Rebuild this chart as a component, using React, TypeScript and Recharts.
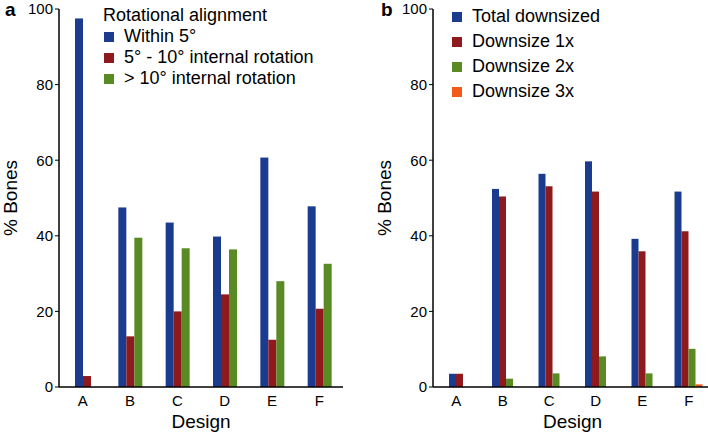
import React from "react";
import { BarChart, Bar, XAxis, YAxis, Legend } from "recharts";

// Design categories shared by both panels
const designs = ["A", "B", "C", "D", "E", "F"];
const yTicks = [0, 20, 40, 60, 80, 100];

// Panel a: rotational alignment
const within5 = [97.5, 47.5, 43.5, 39.8, 60.7, 47.8];
const rot5to10 = [2.9, 13.4, 20.0, 24.5, 12.5, 20.7];
const rotOver10 = [0, 39.5, 36.7, 36.4, 28.0, 32.6];

// Panel b: downsizing
const totalDownsized = [3.5, 52.4, 56.4, 59.7, 39.2, 51.7];
const downsize1x = [3.5, 50.4, 53.1, 51.7, 35.9, 41.2];
const downsize2x = [0, 2.2, 3.6, 8.1, 3.6, 10.1];
const downsize3x = [0, 0, 0, 0, 0, 0.7];

const BLUE = "#1b3c8e";
const RED = "#8e1a1d";
const GREEN = "#5a8a24";
const ORANGE = "#f15a1a";
const FONT = "'Liberation Sans', Arial, sans-serif";

const seriesA = [
  { key: "within5", name: "Within 5°", color: BLUE, values: within5 },
  { key: "rot5to10", name: "5° - 10° internal rotation", color: RED, values: rot5to10 },
  { key: "rotOver10", name: "> 10° internal rotation", color: GREEN, values: rotOver10 },
];

const seriesB = [
  { key: "total", name: "Total downsized", color: BLUE, values: totalDownsized },
  { key: "d1", name: "Downsize 1x", color: RED, values: downsize1x },
  { key: "d2", name: "Downsize 2x", color: GREEN, values: downsize2x },
  { key: "d3", name: "Downsize 3x", color: ORANGE, values: downsize3x },
];

type Series = { key: string; name: string; color: string; values: number[] };

const buildRows = (series: Series[]) =>
  designs.map((design, i) => {
    const row: Record<string, string | number> = { design };
    series.forEach((s) => (row[s.key] = s.values[i]));
    return row;
  });

// empty bars are dropped from a group, so the rest stay centred on the tick
const makeShape = (keys: string[]) => (props: any) => {
  const { x, y, width, height, fill, payload } = props;
  if (!height || height <= 0) return <g />;
  const shown = keys.filter((k) => Number(payload[k]) > 0).length;
  const shift = ((keys.length - shown) * width) / 2;
  return <rect x={x + shift} y={y} width={width} height={height} fill={fill} />;
};

const tickStyle = { fill: "#000", fontSize: 15, fontFamily: FONT };

function LegendBox({
  series,
  title,
  rowHeight,
}: {
  series: Series[];
  title?: string;
  rowHeight: number;
}) {
  return (
    <div style={{ fontFamily: FONT, fontSize: 18, color: "#000", textAlign: "left" }}>
      {title && <div style={{ height: rowHeight, lineHeight: `${rowHeight}px` }}>{title}</div>}
      {series.map((s) => (
        <div
          key={s.key}
          style={{ display: "flex", alignItems: "center", height: rowHeight, whiteSpace: "nowrap" }}
        >
          <span
            style={{ width: 10, height: 10, background: s.color, marginLeft: 1, marginRight: 10 }}
          />
          <span>{s.name}</span>
        </div>
      ))}
    </div>
  );
}

function Panel({
  series,
  width,
  left,
  yAxisWidth,
  rightMargin,
  barSize,
  legendPos,
  legendTitle,
  rowHeight,
  labelOffset,
}: {
  series: Series[];
  width: number;
  left: number;
  yAxisWidth: number;
  rightMargin: number;
  barSize: number;
  legendPos: { left: number; top: number };
  legendTitle?: string;
  rowHeight: number;
  labelOffset: number;
}) {
  const rows = buildRows(series);
  const keys = series.map((s) => s.key);
  const shape = makeShape(keys);
  return (
    <div style={{ position: "absolute", left, top: 0 }}>
      <BarChart
        width={width}
        height={434}
        data={rows}
        margin={{ top: 9, right: rightMargin, left: 0, bottom: 0 }}
        barSize={barSize}
        barGap={0}
      >
        <XAxis
          dataKey="design"
          height={47}
          tick={tickStyle}
          tickLine={false}
          axisLine={{ stroke: "#000", strokeWidth: 1.5 }}
          tickMargin={2}
          label={{
            value: "Design",
            position: "insideBottom",
            offset: 6,
            style: { fill: "#000", fontSize: 19, fontFamily: FONT },
          }}
        />
        <YAxis
          width={yAxisWidth}
          domain={[0, 100]}
          ticks={yTicks}
          tick={tickStyle}
          tickSize={4}
          tickMargin={2}
          tickLine={{ stroke: "#000" }}
          axisLine={{ stroke: "#000", strokeWidth: 1.5 }}
          label={{
            value: "% Bones",
            angle: -90,
            position: "insideLeft",
            offset: labelOffset,
            style: { fill: "#000", fontSize: 19, fontFamily: FONT, textAnchor: "middle" },
          }}
        />
        <Legend
          layout="horizontal"
          verticalAlign="middle"
          align="center"
          wrapperStyle={{
            position: "absolute",
            left: legendPos.left,
            top: legendPos.top,
            width: "auto",
            margin: 0,
          }}
          content={() => <LegendBox series={series} title={legendTitle} rowHeight={rowHeight} />}
        />
        {series.map((s) => (
          <Bar
            key={s.key}
            dataKey={s.key}
            name={s.name}
            fill={s.color}
            shape={shape}
            isAnimationActive={false}
          />
        ))}
      </BarChart>
    </div>
  );
}

const panelLetter = {
  position: "absolute" as const,
  top: 0,
  fontFamily: FONT,
  fontWeight: "bold" as const,
  fontSize: 19,
  lineHeight: "19px",
};

export default function App() {
  return (
    <div
      style={{
        position: "absolute",
        left: 0,
        top: 0,
        width: 708,
        height: 434,
        overflow: "hidden",
        background: "#fff",
      }}
    >
      <Panel
        series={seriesA}
        width={354}
        left={0}
        yAxisWidth={59}
        rightMargin={11}
        barSize={8}
        legendPos={{ left: 103, top: 5 }}
        legendTitle="Rotational alignment"
        rowHeight={21}
        labelOffset={10}
      />
      <Panel
        series={seriesB}
        width={358}
        left={354}
        yAxisWidth={79}
        rightMargin={0}
        barSize={7}
        legendPos={{ left: 97, top: 4 }}
        rowHeight={25}
        labelOffset={30}
      />
      <div style={{ ...panelLetter, left: 5 }}>a</div>
      <div style={{ ...panelLetter, left: 381 }}>b</div>
    </div>
  );
}
